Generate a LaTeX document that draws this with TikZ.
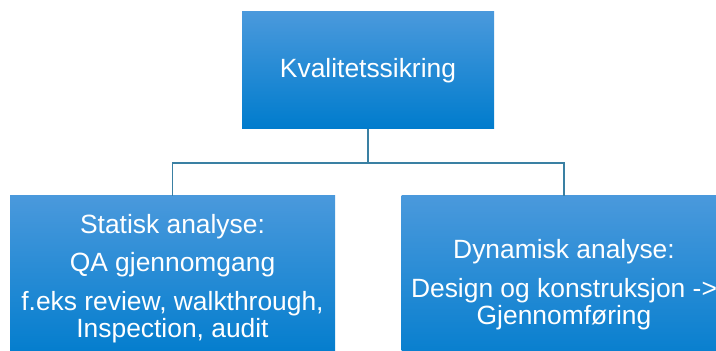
\documentclass[tikz,border=0pt]{standalone}
\usepackage{fontspec}
\setmainfont{Liberation Sans}

\definecolor{boxtop}{RGB}{74,153,220}
\definecolor{boxbot}{RGB}{0,124,205}
\definecolor{linkcol}{RGB}{58,128,163}

\begin{document}
\begin{tikzpicture}[
    x=1pt, y=1pt,
    font=\fontsize{26.4}{27}\selectfont,
    qbox/.style = {rectangle, inner sep=0pt, text=white, align=center,
                   top color=boxtop, bottom color=boxbot},
    link/.style = {draw=linkcol, line width=1.1pt},
  ]
  \useasboundingbox (0,0) rectangle (716,351);
  \clip (0,0) rectangle (716,351);

  \node[qbox, minimum width=252, minimum height=117] (qa) at (368,280.5)
    {Kvalitetssikring};
  \node[qbox, minimum width=325, minimum height=165] (stat) at (172.5,72.5)
    {Statisk analyse:\\[11.5pt] QA gjennomgang\\[11.5pt]
     f.eks review, walkthrough,\\ Inspection, audit};
  \node[qbox, minimum width=325, minimum height=177] (dyn) at (564,66.5)
    {Dynamisk analyse:\\[11.5pt] Design og konstruksjon ->\\ Gjennomføring};

  \coordinate (fork) at (368,188);
  \draw[link] (qa.south) -- (fork);
  \draw[link] (fork) -| (stat.north);
  \draw[link] (fork) -| (dyn.north);

\end{tikzpicture}
\end{document}
